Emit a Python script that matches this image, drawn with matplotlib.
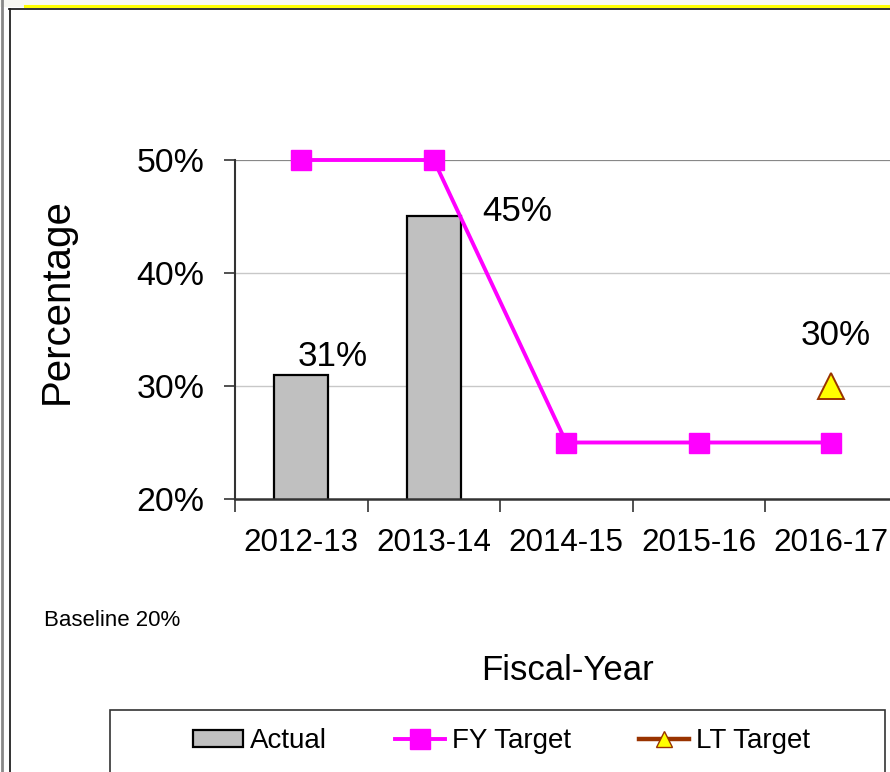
import matplotlib.pyplot as plt
import numpy as np
from matplotlib import font_manager
from matplotlib.lines import Line2D
from matplotlib.patches import Rectangle

plt.rcParams["font.family"] = ["Liberation Sans", "DejaVu Sans"]

YEARS = ["2012-13", "2013-14", "2014-15", "2015-16", "2016-17"]
ACTUAL = [31, 45]
FY_TARGET = [50, 50, 25, 25, 25]
LT_TARGET = 30
LT_YEAR = "2016-17"
Y_TICKS = [20, 30, 40, 50]

MAGENTA = "#FF00FF"
BROWN = "#993300"
BAR_GREY = "#C0C0C0"

W, H = 890, 772

# the chart's numbers use a condensed face; fall back to smaller regular text
_names = {f.name for f in font_manager.fontManager.ttflist}
if "Liberation Sans Narrow" in _names:
    NARROW = ["Liberation Sans Narrow", "Liberation Sans", "DejaVu Sans"]
    K = 1.0
else:
    NARROW = ["Liberation Sans", "DejaVu Sans"]
    K = 0.87


def fx(px):
    return px / W


def fy(py):
    return 1 - py / H


fig = plt.figure(figsize=(W / 100, H / 100), dpi=100)

# outer slide frame
fig.patches.append(Rectangle((0, fy(7)), 1, 1, transform=fig.transFigure,
                             facecolor="#F7F7F2", edgecolor="none", zorder=-3))
fig.add_artist(Line2D([fx(25), 1], [fy(6), fy(6)], color="#FFFF00", lw=2.2))
fig.add_artist(Line2D([fx(9), 1], [fy(8.5), fy(8.5)], color="#222222", lw=1.3))
fig.add_artist(Line2D([fx(9.5), fx(9.5)], [fy(8.5), 0], color="#222222", lw=1.3))
fig.add_artist(Line2D([fx(1.5), fx(1.5)], [1, 0], color="#888888", lw=2.0))

x = np.arange(len(YEARS))
ax = fig.add_axes([fx(235), fy(499), fx(897.5) - fx(235), fy(160) - fy(499)])
ax.set_xlim(-0.5, len(YEARS) - 0.5)
ax.set_ylim(20, 50)

for v in Y_TICKS[1:-1]:
    ax.axhline(v, color="#C8C8C8", lw=1.0, zorder=0)
ax.axhline(50, color="#888888", lw=1.6, zorder=0)

xa = np.arange(len(ACTUAL))
ax.bar(xa, ACTUAL, width=0.41, bottom=0, color=BAR_GREY, edgecolor="black",
       linewidth=1.6, zorder=2, label="Actual")
ax.plot(x, FY_TARGET, color=MAGENTA, lw=2.8, marker="s", markersize=14,
        markerfacecolor=MAGENTA, markeredgecolor=MAGENTA, zorder=3,
        clip_on=False, label="FY Target")
lt_x = YEARS.index(LT_YEAR)
ax.plot([lt_x], [LT_TARGET], color=BROWN, lw=3.2, marker="^", markersize=19,
        markerfacecolor="#FFFF00", markeredgecolor=BROWN, markeredgewidth=1.4,
        linestyle="none", zorder=4, clip_on=False)

lab_kw = dict(textcoords="offset points", ha="center", va="baseline",
              fontsize=29 * K, family=NARROW)
ax.annotate(f"{ACTUAL[0]}%", (xa[0], ACTUAL[0]), xytext=(23, 6), **lab_kw)
ax.annotate(f"{ACTUAL[1]}%", (xa[1], ACTUAL[1]), xytext=(60, -3.5), **lab_kw)
ax.annotate(f"{LT_TARGET}%", (lt_x, LT_TARGET), xytext=(3, 29.5), **lab_kw)

for s in ["top", "right"]:
    ax.spines[s].set_visible(False)
ax.spines["left"].set_color("#333333")
ax.spines["left"].set_linewidth(1.5)
ax.spines["bottom"].set_color("#333333")
ax.spines["bottom"].set_linewidth(1.8)

ax.set_yticks(Y_TICKS)
ax.set_yticklabels([f"{v}%" for v in Y_TICKS], fontsize=28 * K, family=NARROW)
ax.tick_params(axis="y", length=8, width=1.2, color="#333333", pad=14)

ax.set_xticks(x)
ax.set_xticklabels(YEARS, fontsize=26 * K, family=NARROW)
ax.tick_params(axis="x", which="major", length=0, pad=21)
ax.set_xticks(np.arange(len(YEARS)) - 0.5, minor=True)
ax.tick_params(axis="x", which="minor", length=9, width=1.2, color="#333333")

ax.set_ylabel("Percentage", fontsize=29)
ax.yaxis.set_label_coords((76 - 235) / 662.5, (499 - 301.5) / 339)
fig.text(fx(44), fy(621), "Baseline 20%", fontsize=16, ha="left", va="center")
fig.text(fx(568), fy(671), "Fiscal-Year", fontsize=25, ha="center", va="center")

# legend box
fig.patches.append(Rectangle((fx(110), fy(800)), fx(885) - fx(110), fy(710) - fy(800),
                             transform=fig.transFigure, facecolor="white",
                             edgecolor="#333333", lw=1.2, zorder=1))
handles = [
    Rectangle((0, 0), 1, 1, facecolor=BAR_GREY, edgecolor="black", lw=1.6),
    Line2D([0], [0], color=MAGENTA, lw=2.8, marker="s", markersize=14),
    Line2D([0], [0], color=BROWN, lw=3.2, marker="^", markersize=12,
           markerfacecolor="#FFFF00", markeredgecolor=BROWN),
]
leg_fs = 23 * K
em = leg_fs * 100 / 72
fig.legend(handles, ["Actual", "FY Target", "LT Target"], loc="center",
           bbox_to_anchor=(fx(501), fy(741)), ncol=3, frameon=False,
           prop={"family": NARROW, "size": leg_fs},
           handlelength=50 / em, handletextpad=7 / em, columnspacing=68 / em,
           handleheight=16 / em)

fig.savefig("out.png", dpi=100)
